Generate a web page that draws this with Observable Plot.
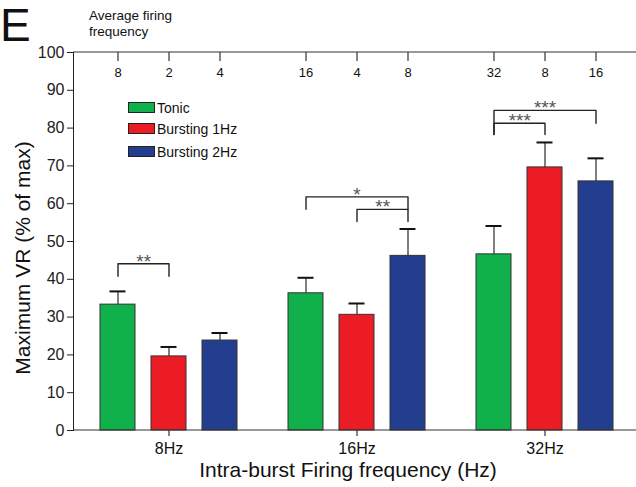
<!DOCTYPE html>
<html><head><meta charset="utf-8">
<script src="https://cdn.jsdelivr.net/npm/d3@7"></script>
<script src="https://cdn.jsdelivr.net/npm/@observablehq/plot@0.6"></script>
<style>
body{margin:0;background:#fff;font-family:"Liberation Sans",Arial,sans-serif;}
#wrap{position:relative;width:636px;height:487px;}
.ov{position:absolute;color:#111;white-space:nowrap;line-height:1;}
.sw{position:absolute;width:25px;height:9px;border:1px solid #222;}
</style></head><body><div id="wrap"></div>
<script>
// ---- data ----
const groups = ["8Hz", "16Hz", "32Hz"];
const series = ["Tonic", "Bursting 1Hz", "Bursting 2Hz"];
const colors = ["#10b04a", "#ec1c24", "#233d8f"];

const tonicMean  = [33.3, 36.3, 46.6];
const burst1Mean = [19.6, 30.6, 69.6];
const burst2Mean = [23.8, 46.2, 65.9];
const tonicErr   = [3.5, 4.1, 7.5];
const burst1Err  = [2.5, 3.0, 6.6];
const burst2Err  = [2.0, 7.1, 6.1];

// average firing frequency labels on top axis
const tonicAvg  = ["8", "16", "32"];
const burst1Avg = ["2", "4", "8"];
const burst2Avg = ["4", "8", "16"];

// significance brackets
const brGroup = ["8Hz", "16Hz", "16Hz", "32Hz", "32Hz"];
const brFrom  = ["Tonic", "Tonic", "Bursting 1Hz", "Tonic", "Tonic"];
const brTo    = ["Bursting 1Hz", "Bursting 2Hz", "Bursting 2Hz", "Bursting 2Hz", "Bursting 1Hz"];
const brTop   = [44.1, 61.8, 58.5, 84.7, 81.3];
const brLeft  = [40.8, 58.5, 55.3, 78.3, 78.3];
const brRight = [40.8, 58.5, 55.3, 81.3, 78.3];
const brLabel = ["**", "*", "**", "***", "***"];

// ---- build tables ----
const means = [tonicMean, burst1Mean, burst2Mean];
const errs = [tonicErr, burst1Err, burst2Err];
const avgs = [tonicAvg, burst1Avg, burst2Avg];
const rows = [];
groups.forEach((g, gi) => series.forEach((s, si) => rows.push({
  group: g, series: s, value: means[si][gi], upper: means[si][gi] + errs[si][gi], avg: avgs[si][gi]
})));
const groupRows = groups.map(g => ({group: g, series: series[1], label: g}));

const brPts = [];
const brText = [];
brGroup.forEach((g, i) => {
  brPts.push({id: i, group: g, s: brFrom[i], y: brLeft[i]});
  brPts.push({id: i, group: g, s: brFrom[i], y: brTop[i]});
  brPts.push({id: i, group: g, s: brTo[i], y: brTop[i]});
  brPts.push({id: i, group: g, s: brTo[i], y: brRight[i]});
  const a = series.indexOf(brFrom[i]), b = series.indexOf(brTo[i]);
  const mid = (a + b) / 2;
  brText.push({group: g, s: series[Math.floor(mid)], half: mid % 1 !== 0, y: brTop[i], label: brLabel[i]});
});

const W = 636, ML = 73;
const chart = Plot.plot({
  width: W, height: 487,
  marginTop: 52, marginBottom: 57, marginLeft: ML, marginRight: 0,
  style: {fontFamily: "Liberation Sans, Arial, sans-serif", fontSize: "16px", color: "#222", background: "white", overflow: "visible"},
  fx: {domain: groups, paddingInner: 0.1, paddingOuter: 0.0434, align: 0, axis: null},
  x: {domain: series, paddingInner: 0.32, paddingOuter: 0.307, align: 0.82, axis: null},
  y: {domain: [0, 100], ticks: 10, tickSize: 6, tickPadding: 3, line: true, label: null},
  color: {domain: series, range: colors},
  marks: [
    Plot.ruleX(rows, {fx: "group", x: "series", y1: 100, y2: 0, insetBottom: 369, stroke: "#333", strokeWidth: 1.2}),
    Plot.text(rows, {fx: "group", x: "series", y: 100, text: "avg", dy: 20, fontSize: 13, fill: "#111"}),
    Plot.ruleX(rows, {fx: "group", x: "series", y1: "value", y2: "upper", stroke: "#555", strokeWidth: 1.5}),
    Plot.tickY(rows, {fx: "group", x: "series", y: "upper", insetLeft: 9.5, insetRight: 9.5, stroke: "#111", strokeWidth: 2}),
    Plot.barY(rows, {fx: "group", x: "series", y: "value", fill: "series", stroke: "#333", strokeWidth: 1}),
    Plot.line(brPts, {fx: "group", x: "s", y: "y", z: "id", stroke: "#222", strokeWidth: 1.4, curve: "linear"}),
    Plot.text(brText.filter(d => !d.half), {fx: "group", x: "s", y: "y", text: "label", dy: -2, fontSize: 19, fill: "#555"}),
    Plot.text(brText.filter(d => d.half), {fx: "group", x: "s", y: "y", text: "label", dy: -2, dx: 25.75, fontSize: 19, fill: "#555"}),
    Plot.ruleX(groupRows, {fx: "group", x: "series", y1: 100, y2: 0, insetTop: 378, insetBottom: -6, stroke: "#333", strokeWidth: 1.2}),
    Plot.text(groupRows, {fx: "group", x: "series", y: 0, text: "label", dy: 18, fontSize: 16, fill: "#111"})
  ]
});

// full-width baseline and top axis line, positioned through the plot's scales
const ys = chart.scale("y"), fxs = chart.scale("fx"), xs = chart.scale("x");
const lastBarRight = fxs.apply(groups[groups.length - 1]) + xs.apply(series[series.length - 1]) + xs.bandwidth;
const svg = d3.select(chart);
svg.append("line").attr("x1", ML).attr("x2", lastBarRight).attr("y1", ys.apply(100)).attr("y2", ys.apply(100))
  .attr("stroke", "#333").attr("stroke-width", 1.2);
svg.append("line").attr("x1", ML).attr("x2", W).attr("y1", ys.apply(0)).attr("y2", ys.apply(0))
  .attr("stroke", "#333").attr("stroke-width", 1.2);

const wrap = document.getElementById("wrap");
wrap.appendChild(chart);

function ov(text, css) {
  const d = document.createElement("div");
  d.className = "ov";
  d.textContent = text;
  Object.assign(d.style, css);
  wrap.appendChild(d);
  return d;
}
ov("E", {left: "0px", top: "2px", fontSize: "46px"});
ov("Average firing", {left: "89px", top: "9px", fontSize: "13.5px"});
ov("frequency", {left: "89px", top: "25px", fontSize: "13.5px"});
ov("Maximum VR (% of max)", {left: "22px", top: "258px", fontSize: "21px", transform: "translate(-50%,-50%) rotate(-90deg)"});
ov("Intra-burst Firing frequency (Hz)", {left: "348px", top: "469px", fontSize: "21px", transform: "translate(-50%,-50%)"});

series.forEach((s, i) => {
  const top = [102, 123, 146][i];
  const sw = document.createElement("div");
  sw.className = "sw";
  Object.assign(sw.style, {left: "128px", top: top + "px", background: colors[i]});
  wrap.appendChild(sw);
  ov(s, {left: "157px", top: (top - 1) + "px", fontSize: "14px"});
});
</script></body></html>
